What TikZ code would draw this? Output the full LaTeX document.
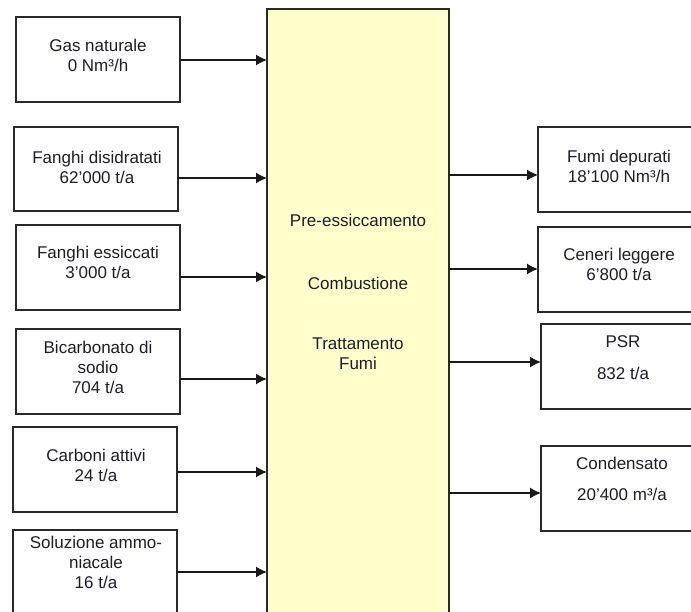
\documentclass[tikz,border=0pt]{standalone}
\usepackage{fontspec}
\setmainfont{Liberation Sans}
\usetikzlibrary{arrows.meta}
\definecolor{procfill}{HTML}{FFFFCC}
\definecolor{edge}{HTML}{2A2A2A}
\definecolor{txt}{HTML}{1E1E2A}
\begin{document}
\begin{tikzpicture}[x=1pt,y=-1pt,
  flowbox/.style={draw=edge, line width=1.4pt, fill=white, inner sep=0pt, outer sep=0pt, anchor=north west},
  procbox/.style={flowbox, fill=procfill},
  lbl/.style={text=txt, align=center, inner sep=0pt, font=\fontsize{17}{20}\selectfont},
  flow/.style={draw=black!90, line width=1.4pt, -{Latex[length=11pt,width=11pt]}}]
\useasboundingbox (0,0) rectangle (691,611);
\clip (0,0) rectangle (691,611);

% left input boxes
\node[flowbox, minimum width=164pt, minimum height=85pt] (g1) at (16,17) {};
\node[flowbox, minimum width=164pt, minimum height=84pt] (g2) at (14,127) {};
\node[flowbox, minimum width=164pt, minimum height=85pt] (g3) at (16,225) {};
\node[flowbox, minimum width=164pt, minimum height=85pt] (g4) at (16,329) {};
\node[flowbox, minimum width=164pt, minimum height=85pt] (g5) at (13,427) {};
\node[flowbox, minimum width=164pt, minimum height=100pt] (g6) at (13,530) {};

% central process
\node[procbox, minimum width=182pt, minimum height=620pt] (proc) at (267,9) {};

% right output boxes
\node[flowbox, minimum width=170pt, minimum height=85pt] (r1) at (538,127) {};
\node[flowbox, minimum width=170pt, minimum height=85pt] (r2) at (538,227) {};
\node[flowbox, minimum width=170pt, minimum height=85pt] (r3) at (541,324) {};
\node[flowbox, minimum width=170pt, minimum height=85pt] (r4) at (541,446) {};

% labels
\node[lbl] (tg1) at (98,55) {Gas naturale\\0 Nm³/h};
\node[lbl] (tg2) at (97,167) {Fanghi disidratati\\62'000 t/a};
\node[lbl] (tg3) at (98,262) {Fanghi essiccati\\3'000 t/a};
\node[lbl] (tg4) at (98,367) {Bicarbonato di\\sodio\\704 t/a};
\node[lbl] (tg5) at (96,465) {Carboni attivi\\24 t/a};
\node[lbl] (tg6) at (96,562) {Soluzione ammo-\\niacale\\16 t/a};

\node[lbl] (tp1) at (358,220) {Pre-essiccamento};
\node[lbl] (tp2) at (358,283) {Combustione};
\node[lbl] (tp3) at (358,354) {Trattamento\\Fumi};

\node[lbl] (tr1) at (619,166) {Fumi depurati\\18'100 Nm³/h};
\node[lbl] (tr2) at (619,264) {Ceneri leggere\\6'800 t/a};
\node[lbl] (tr3a) at (623,342) {PSR};
\node[lbl] (tr3b) at (623,373) {832 t/a};
\node[lbl] (tr4a) at (622,463) {Condensato};
\node[lbl] (tr4b) at (622,494) {20'400 m³/a};

% input connectors
\coordinate (a1) at (g1.east |- 0,60);
\coordinate (a2) at (g2.east |- 0,178);
\coordinate (a3) at (g3.east |- 0,277);
\coordinate (a4) at (g4.east |- 0,379);
\coordinate (a5) at (g5.east |- 0,472);
\coordinate (a6) at (g6.east |- 0,572);
\foreach \i in {1,...,6} {\draw[flow] (a\i) -- (a\i -| proc.west);}

% output connectors
\coordinate (b1) at (proc.east |- 0,175);
\coordinate (b2) at (proc.east |- 0,269);
\coordinate (b3) at (proc.east |- 0,362);
\coordinate (b4) at (proc.east |- 0,493);
\draw[flow] (b1) -- (b1 -| r1.west);
\draw[flow] (b2) -- (b2 -| r2.west);
\draw[flow] (b3) -- (b3 -| r3.west);
\draw[flow] (b4) -- (b4 -| r4.west);
\end{tikzpicture}
\end{document}
